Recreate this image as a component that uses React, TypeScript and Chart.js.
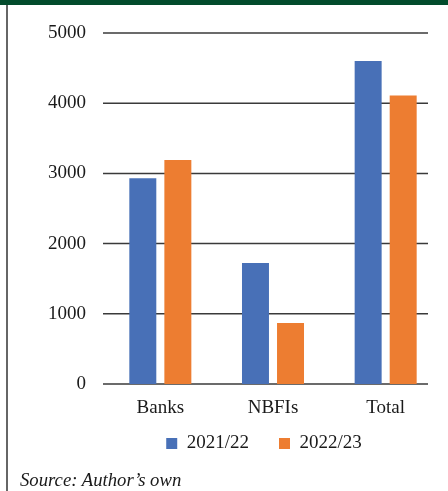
import React, { useEffect, useRef } from "react";
import { Chart, registerables } from "chart.js";

Chart.register(...registerables);

const categories = ["Banks", "NBFIs", "Total"];
const seriesLabels = ["2021/22", "2022/23"];
const values2021 = [2930, 1725, 4600];
const values2022 = [3190, 870, 4110];
const yTicks = [0, 1000, 2000, 3000, 4000, 5000];
const sourceNote = "Source: Author\u2019s own";

const FONT = "'Liberation Serif', 'Times New Roman', serif";

const gridPlugin = {
  id: "customGrid",
  beforeDatasetsDraw(chart: any) {
    const { ctx, chartArea, scales } = chart;
    const y = scales.y;
    ctx.save();
    ctx.strokeStyle = "#3a3a3a";
    ctx.lineWidth = 1.5;
    for (const v of yTicks) {
      const py = y.getPixelForValue(v);
      ctx.beginPath();
      ctx.moveTo(chartArea.left - 1, py);
      ctx.lineTo(chartArea.right - 14, py);
      ctx.stroke();
    }
    ctx.restore();
  },
};

const legendShift = {
  id: "legendShift",
  afterLayout(chart: any) {
    const lg = chart.legend;
    if (lg) {
      lg.left -= 9;
      lg.right -= 9;
    }
  },
};

export default function App() {
  const ref = useRef<HTMLCanvasElement>(null);
  useEffect(() => {
    if (!ref.current) return;
    const chart = new Chart(ref.current, {
      type: "bar",
      data: {
        labels: categories,
        datasets: [
          {
            label: seriesLabels[0],
            data: values2021,
            backgroundColor: "#4870B7",
            categoryPercentage: 0.622,
            barPercentage: 0.77,
          },
          {
            label: seriesLabels[1],
            data: values2022,
            backgroundColor: "#ED7D31",
            categoryPercentage: 0.622,
            barPercentage: 0.77,
          },
        ],
      },
      options: {
        responsive: false,
        animation: false,
        layout: { padding: { top: 33, left: 40, right: 6, bottom: 28 } },
        plugins: {
          tooltip: { enabled: false },
          legend: {
            position: "bottom",
            fullSize: false,
            labels: {
              boxWidth: 11,
              boxHeight: 11,
              padding: 30,
              color: "#1a1a1a",
              font: { family: FONT, size: 19 },
            },
          },
        },
        scales: {
          x: {
            grid: { display: false, drawTicks: false },
            border: { display: false },
            ticks: {
              mirror: true,
              padding: -35,
              color: "#1a1a1a",
              font: { family: FONT, size: 19 },
            },
            afterFit(scale: any) {
              scale.height = 20;
            },
          },
          y: {
            min: 0,
            max: 5000,
            grid: { display: false, drawTicks: false },
            border: { display: false },
            ticks: {
              stepSize: 1000,
              padding: 18,
              color: "#1a1a1a",
              font: { family: FONT, size: 19 },
              callback: (v: any) => String(v),
            },
            afterFit(scale: any) {
              scale.width = 64;
            },
          },
        },
      },
      plugins: [gridPlugin, legendShift],
    });
    return () => chart.destroy();
  }, []);

  return (
    <div
      style={{
        position: "absolute",
        left: 0,
        top: 0,
        width: 448,
        height: 491,
        background: "#fff",
        overflow: "hidden",
      }}
    >
      <canvas
        ref={ref}
        width={448}
        height={491}
        style={{ position: "absolute", left: 0, top: 0, width: 448, height: 491 }}
      />
      <div
        style={{
          position: "absolute",
          left: 0,
          top: 0,
          width: 448,
          height: 5,
          background: "#024B2C",
        }}
      />
      <div
        style={{
          position: "absolute",
          left: 6,
          top: 5,
          width: 2,
          height: 486,
          background: "#666",
        }}
      />
      <div
        style={{
          position: "absolute",
          left: 20,
          top: 471,
          fontFamily: FONT,
          fontStyle: "italic",
          fontSize: 18.7,
          lineHeight: "18px",
          color: "#1a1a1a",
          whiteSpace: "nowrap",
        }}
      >
        {sourceNote}
      </div>
    </div>
  );
}
